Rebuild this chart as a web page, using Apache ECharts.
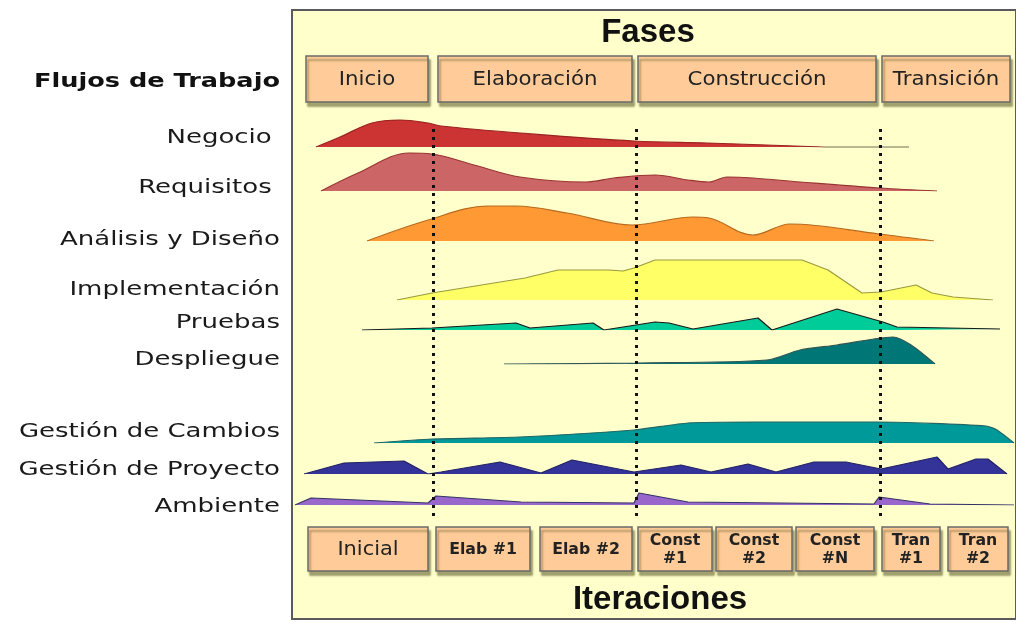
<!DOCTYPE html>
<html>
<head>
<meta charset="utf-8">
<script src="https://cdn.jsdelivr.net/npm/echarts@6/dist/echarts.min.js"></script>
<style>
  html, body { margin: 0; padding: 0; background: #fff; }
  #main { width: 1016px; height: 622px; }
</style>
</head>
<body>
<div id="main"></div>
<script>
var chartDom = document.getElementById('main');
var myChart = echarts.init(chartDom);
var option;

// timeline units (0 = left edge of the panel)
let tMax = 724;
let phaseBounds = [141, 344, 588];

let phaseNames = ['Inicio', 'Elaboración', 'Construcción', 'Transición'];
let phaseSpans = [[14, 136], [146, 340], [346, 584], [590, 718]];

let iterNames = ['Inicial', 'Elab #1', 'Elab #2', 'Const\n#1', 'Const\n#2', 'Const\n#N', 'Tran\n#1', 'Tran\n#2'];
let iterSpans = [[16, 136], [144, 238], [248, 340], [346, 420], [424, 500], [504, 582], [590, 648], [656, 716]];

let flowNames = ['Negocio ', 'Requisitos ', 'Análisis y Diseño', 'Implementación', 'Pruebas', 'Despliegue',
  'Gestión de Cambios', 'Gestión de Proyecto', 'Ambiente'];
let labelY = [138, 188, 240, 290, 323, 360, 432, 470, 507];
let baseY = [147, 191, 241, 300, 330, 364, 443, 474, 505];

// effort curves: [time, effort]
let negocio = [[24,0],[48,10],[80,24],[108,27],[136,24],[149,21],[228,14],[342,6],[415,4],[531,0]];
let negocioTail = [[531,0],[617,0]];
let requisitos = [[29,0],[66,18],[117,38],[140,37],[182,26],[228,14],[294,9],[322,13],[363,16],[396,11],
  [417,9],[435,14],[461,13],[508,9],[587,3],[645,0]];
let analisis = [[75,0],[136,21],[196,35],[224,35],[275,28],[340,16],[401,24],[417,23],[461,6],[498,17],[587,7],[642,0]];
let implementacion = [[105,0],[140,7],[233,22],[266,30],[317,30],[331,29],[342,32],[363,40],[510,40],[536,30],
  [570,7],[589,8],[624,15],[640,7],[661,3],[701,0]];
let pruebas = [[70,0],[140,2],[224,7],[238,2],[301,7],[312,0],[363,8],[377,7],[401,1],[466,12],[480,0],
  [545,21],[591,8],[605,3],[708,1]];
let despliegue = [[212,0],[345,1],[475,4],[508,14],[545,19],[582,25],[601,27],[619,19],[643,0]];
let cambios = [[82,0],[140,4],[228,6],[342,13],[396,20],[461,21],[587,21],[694,17],[705,13],[722,0]];
let proyecto = [[12,0],[52,11],[112,13],[136,0],[149,2],[208,12],[249,1],[280,14],[342,2],[389,9],[419,2],
  [456,10],[484,2],[522,12],[554,12],[589,5],[645,17],[656,5],[684,15],[696,15],[715,0]];
let ambiente = [[3,0],[19,7],[136,2],[144,9],[229,3],[342,2],[347,12],[396,3],[582,1],[587,8],[638,1],[722,0]];

let flows = [negocio, requisitos, analisis, implementacion, pruebas, despliegue, cambios, proyecto, ambiente];
let fills = ['#CC3333', '#CC6666', '#FF9933', '#FFFF66', '#00CC99', '#007777', '#009999', '#333399', '#9966CC'];
let edges = ['#992222', '#993333', '#B86A20', '#9A9A40', '#1a1a1a', '#335555', '#226666', '#222266', '#333366'];
let smooths = [0.35, 0.35, 0.35, 0, 0, 0.3, 0.2, 0, 0];

let rowH = 42;
let font = 'DejaVu Sans';

let grids = [];
let xAxes = [];
let yAxes = [];
let series = [];

function addGrid(g, ymax) {
  grids.push(g);
  let i = grids.length - 1;
  xAxes.push({ type: 'value', gridIndex: i, min: 0, max: tMax, show: false });
  yAxes.push({ type: 'value', gridIndex: i, min: 0, max: ymax, show: false });
  return i;
}

// panel background
let panelIdx = addGrid({ left: 292, top: 10, right: -6, bottom: 3, show: true,
  backgroundColor: '#FFFFCC', borderColor: '#5a5a5a', borderWidth: 2 }, 1);

function boxRender(names, fontSpec, sx) {
  return function (params, api) {
    let p0 = api.coord([api.value(0), 1]);
    let p1 = api.coord([api.value(1), 0]);
    return {
      type: 'group',
      children: [
        { type: 'rect',
          shape: { x: p0[0], y: p0[1], width: p1[0] - p0[0], height: p1[1] - p0[1] },
          style: { fill: '#FFCC99', stroke: '#6a6a6a', lineWidth: 1.5,
            shadowColor: 'rgba(90,90,40,0.55)', shadowOffsetX: 2, shadowOffsetY: 4, shadowBlur: 2 } },
        { type: 'text', x: (p0[0] + p1[0]) / 2, y: (p0[1] + p1[1]) / 2 + 1, scaleX: sx,
          style: { text: names[params.dataIndex], x: 0, y: 0,
            align: 'center', verticalAlign: 'middle', fill: '#222',
            font: fontSpec, lineHeight: 18 } }
      ]
    };
  };
}

let phaseIdx = addGrid({ left: 292, right: 0, top: 56, height: 46 }, 1);
series.push({ type: 'custom', xAxisIndex: phaseIdx, yAxisIndex: phaseIdx, silent: true,
  renderItem: boxRender(phaseNames, '19px "' + font + '"', 1.12), encode: { x: [0, 1] }, data: phaseSpans });

let iterIdx = addGrid({ left: 292, right: 0, top: 527, height: 44 }, 1);
series.push({ type: 'custom', xAxisIndex: iterIdx, yAxisIndex: iterIdx, silent: true,
  renderItem: function (params, api) {
    if (params.dataIndex === 0) return boxRender(iterNames, '19px "' + font + '"', 1.1)(params, api);
    return boxRender(iterNames, 'bold 15px "' + font + '"', 1.05)(params, api);
  }, encode: { x: [0, 1] }, data: iterSpans });

flows.forEach(function (d, k) {
  let gi = addGrid({ left: 292, right: 0, top: baseY[k] - rowH, height: rowH }, rowH);
  if (k === 0) {
    series.push({ type: 'line', xAxisIndex: gi, yAxisIndex: gi, data: negocioTail, symbol: 'none',
      lineStyle: { color: '#B8B890', width: 2 }, silent: true });
  }
  series.push({
    type: 'line', name: flowNames[k], xAxisIndex: gi, yAxisIndex: gi, data: d,
    symbol: 'none', smooth: smooths[k], silent: true,
    lineStyle: { color: edges[k], width: 1.2 },
    areaStyle: { color: fills[k], opacity: 1 }
  });
});

// phase boundaries (dotted)
let lineIdx = addGrid({ left: 292, right: 0, top: 124, height: 392 }, 1);
series.push({ type: 'line', xAxisIndex: lineIdx, yAxisIndex: lineIdx, data: [], z: 10,
  markLine: { silent: true, symbol: 'none', label: { show: false },
    lineStyle: { color: '#111', width: 3, type: [3, 5] },
    data: phaseBounds.map(function (v) { return { xAxis: v }; }) } });

let titles = [
  { text: 'Fases', left: 648, top: 33, textAlign: 'center', textVerticalAlign: 'middle', padding: 0,
    textStyle: { fontFamily: 'Liberation Sans', fontWeight: 'bold', fontSize: 33, color: '#111' } },
  { text: 'Iteraciones', left: 660, top: 600, textAlign: 'center', textVerticalAlign: 'middle', padding: 0,
    textStyle: { fontFamily: 'Liberation Sans', fontWeight: 'bold', fontSize: 33, color: '#111' } }
];

// row labels (the source lettering is horizontally stretched)
let graphics = [
  { type: 'text', x: 280, y: 82, scaleX: 1.28,
    style: { text: 'Flujos de Trabajo', align: 'right', verticalAlign: 'middle',
      font: 'bold 20px "' + font + '"', fill: '#111' } }
];
flowNames.forEach(function (n, k) {
  graphics.push({ type: 'text', x: 280, y: labelY[k], scaleX: 1.3,
    style: { text: n, align: 'right', verticalAlign: 'middle',
      font: '20px "' + font + '"', fill: '#1a1a1a' } });
});

option = {
  backgroundColor: '#ffffff',
  animation: false,
  title: titles,
  graphic: graphics,
  grid: grids,
  xAxis: xAxes,
  yAxis: yAxes,
  series: series
};

option && myChart.setOption(option);
</script>
</body>
</html>
